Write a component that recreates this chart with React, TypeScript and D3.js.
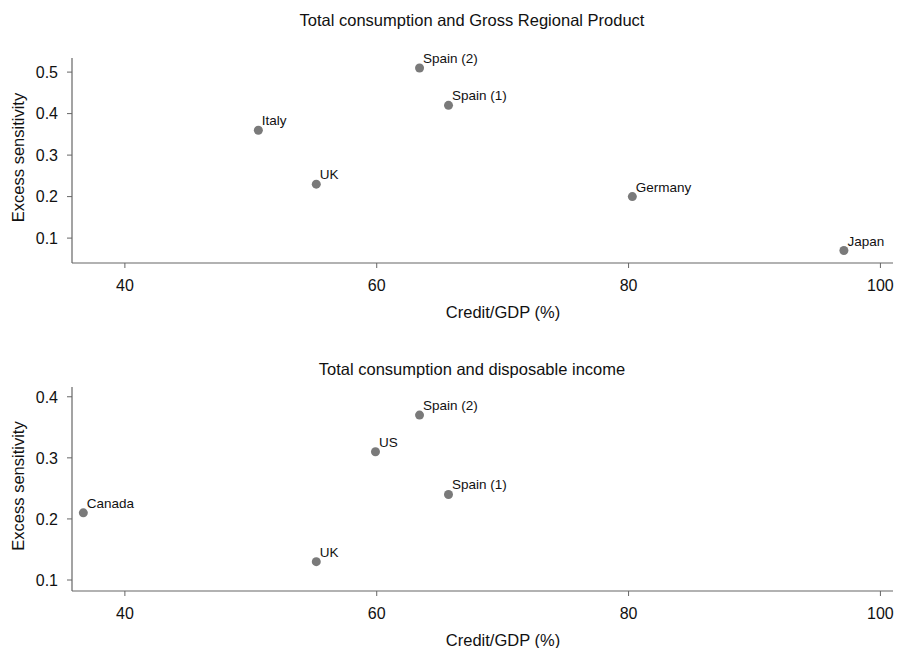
import React from "react";
import * as d3 from "d3";

const topCountries = ["Italy", "UK", "Spain (2)", "Spain (1)", "Germany", "Japan"];
const topCredit = [50.6, 55.2, 63.4, 65.7, 80.3, 97.1];
const topSens = [0.36, 0.23, 0.51, 0.42, 0.2, 0.07];

const botCountries = ["Canada", "UK", "US", "Spain (2)", "Spain (1)"];
const botCredit = [36.7, 55.2, 59.9, 63.4, 65.7];
const botSens = [0.21, 0.13, 0.31, 0.37, 0.24];

const xTicks = [40, 60, 80, 100];
const topYTicks = [0.1, 0.2, 0.3, 0.4, 0.5];
const botYTicks = [0.1, 0.2, 0.3, 0.4];

const titles = ["Total consumption and Gross Regional Product", "Total consumption and disposable income"];

const FONT = "'Liberation Sans', Arial, Helvetica, sans-serif";
const AXIS = "#666";

type PanelProps = {
  title: string;
  names: string[];
  xs: number[];
  ys: number[];
  yTicks: number[];
  yDomain: [number, number];
  top: number;
  bottom: number;
  titleY: number;
};

function Panel({ title, names, xs, ys, yTicks, yDomain, top, bottom, titleY }: PanelProps) {
  const left = 72;
  const right = 893;
  const x = d3.scaleLinear().domain([35.8, 101]).range([left, right]);
  const y = d3.scaleLinear().domain(yDomain).range([bottom, top]);
  const mid = (top + bottom) / 2 - 3;
  return (
    <g fontFamily={FONT}>
      <text x={472} y={titleY} textAnchor="middle" fontSize={16.5} fill="#111">
        {title}
      </text>
      <line x1={left} x2={left} y1={top} y2={bottom} stroke={AXIS} strokeWidth={1.2} />
      <line x1={left} x2={right} y1={bottom} y2={bottom} stroke={AXIS} strokeWidth={1.2} />
      {yTicks.map((t) => (
        <g key={"y" + t}>
          <line x1={left - 5} x2={left} y1={y(t)} y2={y(t)} stroke={AXIS} strokeWidth={1} />
          <text x={left - 14} y={y(t)} dy="0.36em" textAnchor="end" fontSize={16} fill="#111">
            {d3.format(".1f")(t)}
          </text>
        </g>
      ))}
      {xTicks.map((t) => (
        <g key={"x" + t}>
          <line x1={x(t)} x2={x(t)} y1={bottom} y2={bottom + 5} stroke={AXIS} strokeWidth={1} />
          <text x={x(t)} y={bottom + 28} textAnchor="middle" fontSize={16} fill="#111">
            {t}
          </text>
        </g>
      ))}
      <text x={503} y={bottom + 55} textAnchor="middle" fontSize={16.5} fill="#111">
        Credit/GDP (%)
      </text>
      <text
        transform={`translate(24,${mid}) rotate(-90)`}
        textAnchor="middle"
        fontSize={16.5}
        fill="#111"
      >
        Excess sensitivity
      </text>
      {names.map((n, i) => (
        <g key={n + i}>
          <circle cx={x(xs[i])} cy={y(ys[i])} r={4.5} fill="#7a7a7a" />
          <text x={x(xs[i]) + 3.5} y={y(ys[i]) - 5} fontSize={13.5} fill="#111">
            {n}
          </text>
        </g>
      ))}
    </g>
  );
}

export default function App() {
  return (
    <svg
      width={899}
      height={648}
      style={{ position: "absolute", left: 0, top: 0, background: "#fff" }}
    >
      <rect width={899} height={648} fill="#fff" />
      <Panel
        title={titles[0]}
        names={topCountries}
        xs={topCredit}
        ys={topSens}
        yTicks={topYTicks}
        yDomain={[0.04, 0.534]}
        top={58}
        bottom={263}
        titleY={26}
      />
      <Panel
        title={titles[1]}
        names={botCountries}
        xs={botCredit}
        ys={botSens}
        yTicks={botYTicks}
        yDomain={[0.082, 0.416]}
        top={387}
        bottom={591}
        titleY={375}
      />
    </svg>
  );
}
